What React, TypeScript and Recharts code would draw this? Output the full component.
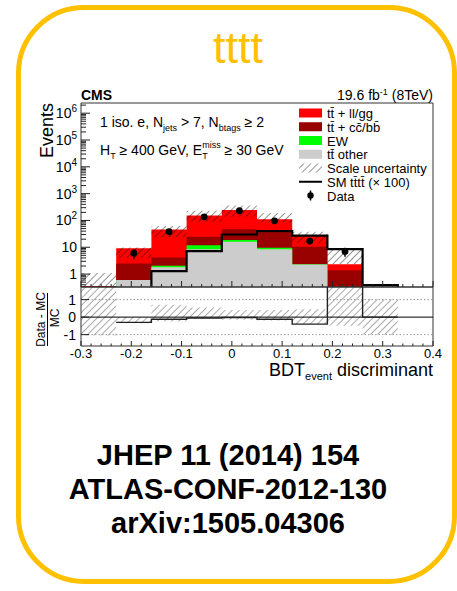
import React from "react";
import {
  ComposedChart,
  Area,
  Line,
  Scatter,
  ErrorBar,
  XAxis,
  YAxis,
  ReferenceLine,
  ReferenceArea,
} from "recharts";

const FONT = "'Liberation Sans', Arial, Helvetica, sans-serif";
const AXIS = "#222";

// BDT bin edges (9 bins of 0.07)
const binEdges = [-0.3, -0.23, -0.16, -0.09, -0.02, 0.05, 0.12, 0.19, 0.26, 0.33];

// expected yields per bin, stacked bottom to top
const ttOther = [0.1, 0.6, 1.8, 8.5, 16, 8.4, 2.3, 0.2, 0.01];
const ewYield = [0, 0, 0.25, 3.5, 2.5, 1.1, 0.05, 0, 0];
const ttCCBB = [0.06, 1.9, 2.15, 12.6, 28.5, 26.5, 8.2, 1.2, 0.01];
const ttLLGG = [0.2, 6.6, 42, 130, 197, 74, 16.5, 0.95, 0.01];

// SM tttt signal scaled by 100
const smTTTTx100 = [0.01, 0.01, 1.3, 7.2, 30, 40, 27, 8.5, 0.39];

// scale uncertainty band
const scaleUncLo = [0.01, 4, 24, 90, 140, 85, 14, 2.4, 0.01];
const scaleUncHi = [1.1, 9.8, 62, 230, 360, 190, 38, 8.5, 0.38];

// observed events
const dataCounts = [0, 6, 38, 137, 230, 97, 17, 7, 0];
const dataErr = [0, 2.4, 6.2, 11.7, 15.2, 9.8, 4.1, 2.6, 0];

// (Data - MC) / MC
const ratioVal = [null, -0.3, -0.12, -0.05, -0.02, -0.12, -0.4, 2.2, 0];
const ratioUncLo = [-1.05, -0.35, -0.25, -0.1, -0.15, -0.2, -0.4, -0.5, -1.0];
const ratioUncHi = [2.0, 0.0, 0.7, 0.55, 0.4, 0.4, 0.45, 2.0, 1.0];

const xMajorTicks = [-0.3, -0.2, -0.1, 0, 0.1, 0.2, 0.3, 0.4];
const yMajorTicks = [1, 10, 100, 1e3, 1e4, 1e5, 1e6];
const ratioTicks = [-1, 0, 1];

const legendItems = [
  { label: "tt\u0304 + ll/gg", kind: "box", color: "#ff0000" },
  { label: "tt\u0304 + cc\u0304/bb\u0304", kind: "box", color: "#990000" },
  { label: "EW", kind: "box", color: "#00ff00" },
  { label: "tt\u0304 other", kind: "box", color: "#cccccc" },
  { label: "Scale uncertainty", kind: "hatch", color: "#222" },
  { label: "SM tt\u0304tt\u0304 (\u00d7 100)", kind: "line", color: "#000" },
  { label: "Data", kind: "point", color: "#000" },
];

const citations = ["JHEP 11 (2014) 154", "ATLAS-CONF-2012-130", "arXiv:1505.04306"];

const X_MIN = -0.3;
const X_MAX = 0.4;
const Y_MIN = 0.33;
const Y_MAX = 2.4e6;
const R_MIN = -1.65;
const R_MAX = 1.72;
const EMPTY = 0.01;

const nBins = ttOther.length;

// histogram rows at the bin edges, drawn as stepAfter; the last edge closes the outline
const mainRows = binEdges.map((x, i) => {
  if (i >= nBins) {
    return { x, other: EMPTY, ew: EMPTY, ccbb: EMPTY, llgg: EMPTY, sm: EMPTY, scale: [EMPTY, EMPTY] };
  }
  const other = ttOther[i];
  const ew = other + ewYield[i];
  const ccbb = ew + ttCCBB[i];
  const llgg = ccbb + ttLLGG[i];
  return { x, other, ew, ccbb, llgg, sm: smTTTTx100[i], scale: [scaleUncLo[i], scaleUncHi[i]] };
});

const ratioRows = binEdges.map((x, i) =>
  i >= nBins
    ? { x, ratio: 0, unc: [0, 0] }
    : { x, ratio: ratioVal[i], unc: [ratioUncLo[i], ratioUncHi[i]] }
);

const dataPoints = dataCounts
  .map((n, i) => ({ x: (binEdges[i] + binEdges[i + 1]) / 2, y: n, err: dataErr[i] }))
  .filter((p) => p.y > 0);

// minor ticks
const xTicks: number[] = [];
for (let k = 0; k <= 35; k++) xTicks.push(+(X_MIN + k * 0.02).toFixed(2));
const yTicks: number[] = [];
for (let e = -1; e <= 6; e++) {
  for (let d = 1; d <= 9; d++) {
    const v = +(d * Math.pow(10, e)).toPrecision(3);
    if (v >= Y_MIN && v <= Y_MAX) yTicks.push(v);
  }
}

const isMajorX = (v: number) => xMajorTicks.some((t) => Math.abs(t - v) < 1e-6);

function MainYTick({ x, y, payload }: any) {
  const v = payload.value;
  const major = yMajorTicks.includes(v);
  const exp = Math.round(Math.log10(v));
  return (
    <g>
      <line x1={x} y1={y} x2={x + (major ? 9 : 5)} y2={y} stroke={AXIS} />
      {major && (
        <text x={x - 4} y={y + 5} textAnchor="end" fontSize={14} fill="#000" fontFamily={FONT}>
          {exp < 2 ? (
            String(v)
          ) : (
            <>
              10
              <tspan dy={-6} fontSize={10}>
                {exp}
              </tspan>
            </>
          )}
        </text>
      )}
    </g>
  );
}

function MainXTick({ x, y, payload }: any) {
  const major = isMajorX(payload.value);
  return <line x1={x} y1={y} x2={x} y2={y - (major ? 6 : 3)} stroke={AXIS} />;
}

function RatioXTick({ x, y, payload }: any) {
  const v = payload.value;
  const major = isMajorX(v);
  return (
    <g>
      <line x1={x} y1={y} x2={x} y2={y - (major ? 5 : 2.5)} stroke={AXIS} />
      {major && (
        <text x={x} y={y + 12} textAnchor="middle" fontSize={13} fill="#000" fontFamily={FONT}>
          {v === 0 ? "0" : v.toFixed(1)}
        </text>
      )}
    </g>
  );
}

function RatioYTick({ x, y, payload }: any) {
  return (
    <g>
      <line x1={x} y1={y} x2={x + 8} y2={y} stroke={AXIS} />
      <text x={x - 5} y={y + 5} textAnchor="end" fontSize={14} fill="#000" fontFamily={FONT}>
        {String(payload.value)}
      </text>
    </g>
  );
}

function DataDot({ cx, cy }: any) {
  return <circle cx={cx} cy={cy} r={3.4} fill="#000" />;
}

function LegendGlyph({ item, x, y }: any) {
  if (item.kind === "box") return <rect x={x} y={y - 4.5} width={23} height={9} fill={item.color} />;
  if (item.kind === "hatch") return <rect x={x} y={y - 4.5} width={23} height={9} fill="url(#hatchMain)" />;
  if (item.kind === "line") return <line x1={x} x2={x + 23} y1={y} y2={y} stroke="#000" strokeWidth={2} />;
  return (
    <g>
      <line x1={x + 11.5} x2={x + 11.5} y1={y - 5} y2={y + 5} stroke="#000" strokeWidth={1.5} />
      <circle cx={x + 11.5} cy={y} r={3.2} fill="#000" />
    </g>
  );
}

export default function App() {
  return (
    <div
      style={{
        position: "absolute",
        left: 0,
        top: 0,
        width: 457,
        height: 591,
        background: "#fff",
        overflow: "hidden",
        fontFamily: FONT,
      }}
    >
      <svg width={0} height={0} style={{ position: "absolute" }}>
        <defs>
          <pattern id="hatchMain" width={5} height={5} patternUnits="userSpaceOnUse" patternTransform="rotate(45)">
            <line x1={0} y1={0} x2={0} y2={5} stroke="#111" strokeWidth={0.9} />
          </pattern>
          <pattern id="hatchRatio" width={5} height={5} patternUnits="userSpaceOnUse" patternTransform="rotate(45)">
            <line x1={0} y1={0} x2={0} y2={5} stroke="#444" strokeWidth={0.9} />
          </pattern>
        </defs>
      </svg>

      <div
        style={{
          position: "absolute",
          left: 16,
          top: 5,
          width: 441,
          height: 579,
          boxSizing: "border-box",
          border: "5.5px solid #ffc000",
          borderRadius: 68,
        }}
      />

      <div style={{ position: "absolute", left: 0, top: 80 }}>
        <ComposedChart width={457} height={215} data={mainRows} margin={{ top: 23, right: 24, bottom: 7, left: 41 }}>
          <XAxis
            type="number"
            dataKey="x"
            domain={[X_MIN, X_MAX]}
            allowDataOverflow
            ticks={xTicks}
            interval={0}
            tick={(p: any) => <MainXTick {...p} />}
            tickSize={0}
            tickMargin={0}
            axisLine={false}
            height={1}
          />
          <YAxis
            type="number"
            scale="log"
            domain={[Y_MIN, Y_MAX]}
            allowDataOverflow
            ticks={yTicks}
            interval={0}
            tick={(p: any) => <MainYTick {...p} />}
            tickSize={0}
            tickMargin={0}
            axisLine={false}
            width={40}
          />
          <Area type="stepAfter" dataKey="llgg" baseValue={Y_MIN} fill="#ff0000" fillOpacity={1} stroke="none" isAnimationActive={false} />
          <Area type="stepAfter" dataKey="ccbb" baseValue={Y_MIN} fill="#990000" fillOpacity={1} stroke="none" isAnimationActive={false} />
          <Area type="stepAfter" dataKey="ew" baseValue={Y_MIN} fill="#00ff00" fillOpacity={1} stroke="none" isAnimationActive={false} />
          <Area type="stepAfter" dataKey="other" baseValue={Y_MIN} fill="#cccccc" fillOpacity={1} stroke="none" isAnimationActive={false} />
          <Area type="stepAfter" dataKey="scale" fill="url(#hatchMain)" fillOpacity={1} stroke="none" isAnimationActive={false} />
          <Line type="stepAfter" dataKey="sm" stroke="#000" strokeWidth={2.2} dot={false} isAnimationActive={false} />
          <Scatter data={dataPoints} dataKey="y" shape={(p: any) => <DataDot {...p} />} isAnimationActive={false}>
            <ErrorBar dataKey="err" direction="y" width={0} stroke="#000" strokeWidth={1.5} />
          </Scatter>
          <ReferenceArea x1={X_MIN} x2={X_MAX} y1={Y_MIN} y2={Y_MAX} fill="none" stroke="#333" strokeWidth={1} ifOverflow="visible" />
        </ComposedChart>
      </div>

      <div style={{ position: "absolute", left: 0, top: 280 }}>
        <ComposedChart width={457} height={100} data={ratioRows} margin={{ top: 7, right: 24, bottom: 14, left: 41 }}>
          <XAxis
            type="number"
            dataKey="x"
            domain={[X_MIN, X_MAX]}
            allowDataOverflow
            ticks={xTicks}
            interval={0}
            tick={(p: any) => <RatioXTick {...p} />}
            tickSize={0}
            tickMargin={0}
            axisLine={false}
            height={20}
          />
          <YAxis
            type="number"
            domain={[R_MIN, R_MAX]}
            allowDataOverflow
            ticks={ratioTicks}
            interval={0}
            tick={(p: any) => <RatioYTick {...p} />}
            tickSize={0}
            tickMargin={0}
            axisLine={false}
            width={40}
          />
          <ReferenceLine y={1} stroke="#999" strokeDasharray="1.5 2" />
          <ReferenceLine y={-1} stroke="#999" strokeDasharray="1.5 2" />
          <Area type="stepAfter" dataKey="unc" fill="url(#hatchRatio)" fillOpacity={1} stroke="none" isAnimationActive={false} />
          <ReferenceLine y={0} stroke="#000" />
          <Line type="stepAfter" dataKey="ratio" stroke="#222" strokeWidth={1.4} dot={false} isAnimationActive={false} />
          <ReferenceArea x1={X_MIN} x2={X_MAX} y1={R_MIN} y2={R_MAX} fill="none" stroke="#333" strokeWidth={1} ifOverflow="visible" />
        </ComposedChart>
      </div>

      <svg width={457} height={591} style={{ position: "absolute", left: 0, top: 0, pointerEvents: "none" }} fontFamily={FONT}>
        <text x={238} y={63} textAnchor="middle" fontSize={45} fill="#ffc000">
          tttt
        </text>

        <text x={81} y={100} fontSize={14} fontWeight="bold" fill="#000">
          CMS
        </text>
        <text x={433} y={100} textAnchor="end" fontSize={14} fill="#000">
          19.6 fb
          <tspan dy={-5} fontSize={9}>
            -1
          </tspan>
          <tspan dy={5}> (8TeV)</tspan>
        </text>

        <text x={100} y={127} fontSize={14} fill="#000">
          1 iso. e, N
          <tspan dy={4} fontSize={9}>
            jets
          </tspan>
          <tspan dy={-4}> &gt; 7, N</tspan>
          <tspan dy={4} fontSize={9}>
            btags
          </tspan>
          <tspan dy={-4}> {"\u2265"} 2</tspan>
        </text>
        <text x={100} y={155} fontSize={14} fill="#000">
          H
          <tspan dy={4} fontSize={9}>
            T
          </tspan>
          <tspan dy={-4}> {"\u2265"} 400 GeV, E</tspan>
          <tspan dy={4} fontSize={9}>
            T
          </tspan>
          <tspan dx={-5.5} dy={-11} fontSize={9}>
            miss
          </tspan>
          <tspan dy={7}> {"\u2265"} 30 GeV</tspan>
        </text>

        {legendItems.map((item, i) => {
          const cy = 113 + i * 13.75;
          return (
            <g key={item.label}>
              <LegendGlyph item={item} x={299} y={cy} />
              <text x={327} y={cy + 5} fontSize={13} fill="#000">
                {item.label}
              </text>
            </g>
          );
        })}

        <text transform="translate(53,103) rotate(-90)" textAnchor="end" fontSize={18} fill="#000">
          Events
        </text>

        <text transform="translate(45,319.5) rotate(-90)" textAnchor="middle" fontSize={12} fill="#000">
          Data - MC
        </text>
        <line x1={47.5} x2={47.5} y1={293} y2={346} stroke="#000" strokeWidth={1} />
        <text transform="translate(59,318) rotate(-90)" textAnchor="middle" fontSize={12} fill="#000">
          MC
        </text>

        <text x={433} y={376} textAnchor="end" fontSize={18} fill="#000">
          BDT
          <tspan dy={4} fontSize={11}>
            event
          </tspan>
          <tspan dy={-4}> discriminant</tspan>
        </text>

        {citations.map((c, i) => (
          <text key={c} x={228} y={465 + i * 34} textAnchor="middle" fontSize={29} fontWeight="bold" fill="#000">
            {c}
          </text>
        ))}
      </svg>
    </div>
  );
}
